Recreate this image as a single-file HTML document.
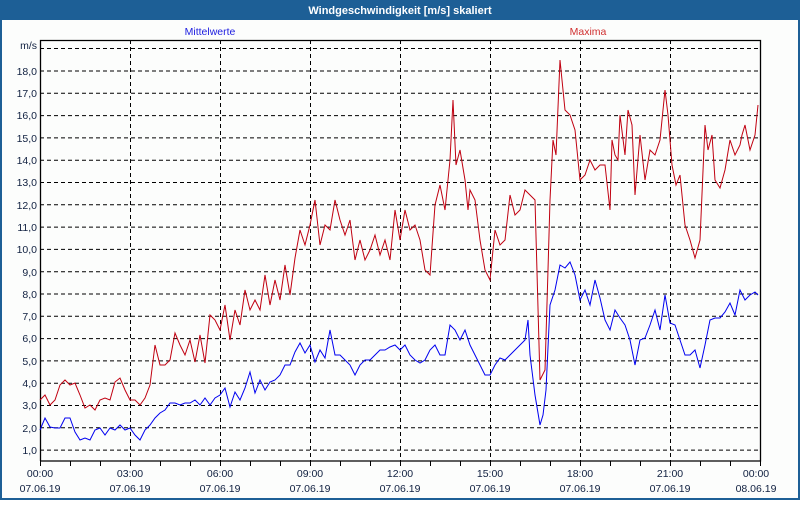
<!DOCTYPE html>
<html><head><meta charset="utf-8"><style>
body{margin:0;width:800px;height:500px;overflow:hidden;background:#fff;font-family:"Liberation Sans",sans-serif}
</style></head><body>
<svg width="800" height="500" xmlns="http://www.w3.org/2000/svg" font-family="Liberation Sans, sans-serif" font-size="10.5">
<rect x="0" y="0" width="800" height="500" fill="#1d5f96"/>
<rect x="2" y="20" width="796" height="478" fill="#fcfdfc"/>
<text x="400" y="14" fill="#fff" font-weight="bold" text-anchor="middle" font-size="11">Windgeschwindigkeit [m/s] skaliert</text>
<text x="210" y="35" fill="#2020e0" text-anchor="middle">Mittelwerte</text>
<text x="588" y="35" fill="#d03030" text-anchor="middle">Maxima</text>
<text x="37" y="49" fill="#102040" text-anchor="end">m/s</text>
<g stroke="#000" stroke-dasharray="4,3" stroke-width="1">
<line x1="40" x2="760" y1="48.5" y2="48.5"/><line x1="40" x2="760" y1="71" y2="71"/><line x1="40" x2="760" y1="93.3" y2="93.3"/><line x1="40" x2="760" y1="115.6" y2="115.6"/><line x1="40" x2="760" y1="137.9" y2="137.9"/><line x1="40" x2="760" y1="160.2" y2="160.2"/><line x1="40" x2="760" y1="182.5" y2="182.5"/><line x1="40" x2="760" y1="204.8" y2="204.8"/><line x1="40" x2="760" y1="227.1" y2="227.1"/><line x1="40" x2="760" y1="249.4" y2="249.4"/><line x1="40" x2="760" y1="271.7" y2="271.7"/><line x1="40" x2="760" y1="294" y2="294"/><line x1="40" x2="760" y1="316.3" y2="316.3"/><line x1="40" x2="760" y1="338.6" y2="338.6"/><line x1="40" x2="760" y1="360.9" y2="360.9"/><line x1="40" x2="760" y1="383.2" y2="383.2"/><line x1="40" x2="760" y1="405.5" y2="405.5"/><line x1="40" x2="760" y1="427.8" y2="427.8"/><line x1="40" x2="760" y1="450.1" y2="450.1"/>
<line x1="130.5" x2="130.5" y1="40" y2="461"/><line x1="220.5" x2="220.5" y1="40" y2="461"/><line x1="310.5" x2="310.5" y1="40" y2="461"/><line x1="400.5" x2="400.5" y1="40" y2="461"/><line x1="490.5" x2="490.5" y1="40" y2="461"/><line x1="580.5" x2="580.5" y1="40" y2="461"/><line x1="670.5" x2="670.5" y1="40" y2="461"/>
</g>
<path d="M40.5 461V40.5H760.5V461H40" fill="none" stroke="#000" stroke-width="1.3"/>
<g stroke="#000"><path d="M70.5 461v5M100.5 461v5M130.5 461v5M160.5 461v5M190.5 461v5M220.5 461v5M250.5 461v5M280.5 461v5M310.5 461v5M340.5 461v5M370.5 461v5M400.5 461v5M430.5 461v5M460.5 461v5M490.5 461v5M520.5 461v5M550.5 461v5M580.5 461v5M610.5 461v5M640.5 461v5M670.5 461v5M700.5 461v5M730.5 461v5M760.5 461v5M40.5 461v5"/></g>
<g fill="#102040" text-anchor="end">
<text x="37" y="75">18,0</text><text x="37" y="97">17,0</text><text x="37" y="119">16,0</text><text x="37" y="142">15,0</text><text x="37" y="164">14,0</text><text x="37" y="186">13,0</text><text x="37" y="209">12,0</text><text x="37" y="231">11,0</text><text x="37" y="253">10,0</text><text x="37" y="276">9,0</text><text x="37" y="298">8,0</text><text x="37" y="320">7,0</text><text x="37" y="342">6,0</text><text x="37" y="365">5,0</text><text x="37" y="387">4,0</text><text x="37" y="409">3,0</text><text x="37" y="432">2,0</text><text x="37" y="454">1,0</text>
</g>
<g fill="#102040" text-anchor="middle">
<text x="40" y="477">00:00</text><text x="40" y="492">07.06.19</text>
<text x="130" y="477">03:00</text><text x="130" y="492">07.06.19</text>
<text x="220" y="477">06:00</text><text x="220" y="492">07.06.19</text>
<text x="310" y="477">09:00</text><text x="310" y="492">07.06.19</text>
<text x="400" y="477">12:00</text><text x="400" y="492">07.06.19</text>
<text x="490" y="477">15:00</text><text x="490" y="492">07.06.19</text>
<text x="580" y="477">18:00</text><text x="580" y="492">07.06.19</text>
<text x="670" y="477">21:00</text><text x="670" y="492">07.06.19</text>
<text x="756" y="477">00:00</text><text x="756" y="492">08.06.19</text>
</g>
<polyline fill="none" stroke="#c00010" stroke-width="1" points="40,400 45,395 50,405 55,400 60,385 65,380 70,385 75,383 80,395 85,408 90,405 95,410 100,400 105,398 110,400 115,382 120,378 125,390 130,400 135,400 140,405 145,398 150,385 155,345 160,365 165,365 170,360 175,333 180,345 185,355 190,340 195,362 200,335 205,363 210,315 215,320 220,330 225,305 230,340 235,310 240,325 245,290 250,310 255,300 260,310 265,275 270,305 275,280 280,300 285,265 290,295 295,258 300,230 305,245 310,225 315,200 320,245 325,225 330,230 335,200 340,220 345,235 350,220 355,260 360,240 365,260 370,250 375,235 380,255 385,240 390,260 395,210 400,240 405,210 410,230 415,225 420,240 425,270 430,275 435,205 440,185 445,210 450,160 453,100 456,165 460,150 465,180 468,210 470,190 475,200 480,240 485,270 490,280 495,230 500,245 505,240 510,195 515,215 520,210 525,190 530,195 535,200 540,380 545,370 548,270 550,200 553,140 556,155 560,60 565,110 570,115 575,130 580,180 585,175 590,160 595,170 600,165 605,165 610,210 612,140 615,155 618,160 620,115 625,155 628,110 632,125 635,195 640,135 645,180 650,150 655,155 660,140 665,90 668,115 672,165 676,185 680,175 685,225 690,240 695,258 700,240 705,125 708,150 712,135 715,180 720,188 725,170 730,140 735,155 740,145 742,135 745,125 750,150 755,135 758,105"/>
<polyline fill="none" stroke="#0000f0" stroke-width="1" points="40,430 45,418 50,427 55,428 60,428 65,418 70,418 75,432 80,440 85,438 90,440 95,430 100,428 105,435 110,428 115,430 120,425 125,430 130,428 135,435 140,440 145,430 150,425 155,418 160,413 165,410 170,403 175,403 180,405 185,403 190,403 195,400 200,405 205,398 210,405 215,398 220,395 225,388 230,407 235,392 240,400 245,388 250,372 255,393 260,380 265,390 270,382 275,380 280,375 285,365 290,365 295,352 300,343 305,353 310,345 315,362 320,350 325,358 330,330 335,355 340,355 345,360 350,365 355,375 360,365 365,360 370,360 375,355 380,350 385,350 390,347 395,345 400,350 405,345 410,355 415,360 420,363 425,360 430,350 435,345 440,355 445,355 450,325 455,330 460,340 465,330 470,345 475,355 480,365 485,375 490,375 495,365 500,358 505,360 510,355 515,350 520,345 525,340 528,320 530,355 535,395 540,425 543,415 546,390 550,305 555,290 560,265 565,268 570,262 575,275 578,290 580,300 585,290 590,305 595,280 600,298 605,320 610,330 615,310 620,318 625,325 630,340 635,365 640,340 645,338 650,325 655,310 660,330 665,295 670,323 675,325 680,340 685,355 690,355 695,350 700,368 705,345 710,320 715,318 720,318 725,312 730,303 735,315 740,290 745,300 750,295 755,292 758,295"/>
</svg>
</body></html>
